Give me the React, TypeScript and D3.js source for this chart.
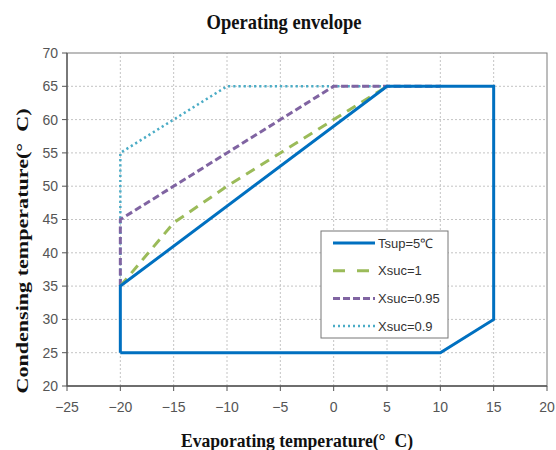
import React from "react";
import * as d3 from "d3";

const W = 556;
const H = 450;

const xTicks = [-25, -20, -15, -10, -5, 0, 5, 10, 15, 20];
const yTicks = [20, 25, 30, 35, 40, 45, 50, 55, 60, 65, 70];

// Evaporating / condensing temperature pairs per curve
const tsupX = [-20, 10, 15, 15, 5, -20, -20];
const tsupY = [25, 25, 30, 65, 65, 35, 25];

const xsuc1X = [-20, -15, -10, -5, 0, 5];
const xsuc1Y = [35, 44.5, 50, 55, 60, 65];

const xsuc095X = [-20, -20, 0, 10];
const xsuc095Y = [35, 45, 65, 65];

const xsuc09X = [-20, -20, -10, 10];
const xsuc09Y = [35, 55, 65, 65];

const seriesNames = ["Tsup=5℃", "Xsuc=1", "Xsuc=0.95", "Xsuc=0.9"];

const margin = { left: 67, right: 9, top: 53, bottom: 64 };

const x = d3.scaleLinear().domain([-25, 20]).range([margin.left, W - margin.right]);
const y = d3.scaleLinear().domain([20, 70]).range([H - margin.bottom, margin.top]);

const line = d3
  .line<[number, number]>()
  .x((d) => x(d[0]))
  .y((d) => y(d[1]));

const zip = (xs: number[], ys: number[]): [number, number][] => xs.map((v, i) => [v, ys[i]]);

const styles = [
  { color: "#0070C0", width: 3, dash: "none", legendDash: "none" },
  { color: "#9BBB59", width: 3, dash: "10,7", legendDash: "12,12" },
  { color: "#8064A2", width: 3, dash: "7,3.5", legendDash: "7,3" },
  { color: "#4BACC6", width: 2.5, dash: "2.2,3", legendDash: "2,3" },
];

const seriesData = [
  zip(tsupX, tsupY),
  zip(xsuc1X, xsuc1Y),
  zip(xsuc095X, xsuc095Y),
  zip(xsuc09X, xsuc09Y),
];

export default function App() {
  const x0 = x(-25);
  const x1 = x(20);
  const y0 = y(20);
  const y1 = y(70);
  const tickFont = "'Liberation Sans', Arial, sans-serif";
  const serif = "'Liberation Serif', 'Times New Roman', serif";
  const legend = { x: 321, y: 231, w: 127, h: 107 };
  const drawOrder = [3, 2, 1, 0];
  return (
    <svg
      width={W}
      height={H}
      style={{ position: "absolute", left: 0, top: 0, background: "#fff" }}
    >
      <rect x={0} y={0} width={W} height={H} fill="#fff" />
      <text
        x={284}
        y={29}
        textAnchor="middle"
        fontFamily={serif}
        fontWeight="bold"
        fontSize={21}
        textLength={155}
        lengthAdjust="spacingAndGlyphs"
        fill="#111"
      >
        Operating envelope
      </text>

      {/* grid */}
      {xTicks.slice(1, -1).map((t) => (
        <line
          key={"gx" + t}
          x1={x(t)}
          x2={x(t)}
          y1={y0}
          y2={y1}
          stroke="#c4c4c4"
          strokeWidth={1}
          strokeDasharray="2,2"
        />
      ))}
      {yTicks.slice(1, -1).map((t) => (
        <line
          key={"gy" + t}
          x1={x0}
          x2={x1}
          y1={y(t)}
          y2={y(t)}
          stroke="#c4c4c4"
          strokeWidth={1}
          strokeDasharray="2,2"
        />
      ))}

      {/* frame and axes */}
      <rect x={x0} y={y1} width={x1 - x0} height={y0 - y1} fill="none" stroke="#7a7a7a" strokeWidth={1} />
      <line x1={x0} x2={x0} y1={y0} y2={y1} stroke="#555" strokeWidth={1.3} />
      <line x1={x0} x2={x1} y1={y0} y2={y0} stroke="#555" strokeWidth={1.3} />
      {yTicks.map((t) => (
        <g key={"ty" + t}>
          <line x1={x0 - 5} x2={x0} y1={y(t)} y2={y(t)} stroke="#555" strokeWidth={1} />
          <text
            x={x0 - 9}
            y={y(t)}
            dy="0.35em"
            textAnchor="end"
            fontFamily={tickFont}
            fontSize={14}
            fill="#555"
          >
            {t}
          </text>
        </g>
      ))}
      {xTicks.map((t) => (
        <g key={"tx" + t}>
          <line x1={x(t)} x2={x(t)} y1={y0} y2={y0 + 5} stroke="#555" strokeWidth={1} />
          <text
            x={x(t)}
            y={y0 + 26}
            textAnchor="middle"
            fontFamily={tickFont}
            fontSize={14}
            fill="#555"
          >
            {t < 0 ? "−" + Math.abs(t) : t}
          </text>
        </g>
      ))}

      {/* series */}
      {drawOrder.map((i) => (
        <path
          key={"s" + i}
          d={line(seriesData[i]) || ""}
          fill="none"
          stroke={styles[i].color}
          strokeWidth={styles[i].width}
          strokeDasharray={styles[i].dash}
          strokeLinejoin="miter"
        />
      ))}

      {/* legend */}
      <rect x={legend.x} y={legend.y} width={legend.w} height={legend.h} fill="#fff" stroke="#777" strokeWidth={1} />
      {seriesNames.map((name, i) => {
        const ly = legend.y + 12 + i * 27.7;
        return (
          <g key={"lg" + i}>
            <line
              x1={333}
              x2={375}
              y1={ly}
              y2={ly}
              stroke={styles[i].color}
              strokeWidth={styles[i].width}
              strokeDasharray={styles[i].legendDash}
            />
            <text x={378} y={ly} dy="0.36em" fontFamily={tickFont} fontSize={13} fill="#333">
              {name}
            </text>
          </g>
        );
      })}

      {/* axis titles */}
      <text
        x={297}
        y={447}
        textAnchor="middle"
        fontFamily={serif}
        fontWeight="bold"
        fontSize={18}
        textLength={232}
        lengthAdjust="spacingAndGlyphs"
        fill="#111"
      >
        {"Evaporating temperature(°\u00a0\u00a0C)"}
      </text>
      <text
        transform={`translate(28, 251) rotate(-90)`}
        textAnchor="middle"
        fontFamily={serif}
        fontWeight="bold"
        fontSize={17}
        textLength={285}
        lengthAdjust="spacingAndGlyphs"
        fill="#111"
      >
        {"Condensing temperature(°\u00a0\u00a0C)"}
      </text>
    </svg>
  );
}
